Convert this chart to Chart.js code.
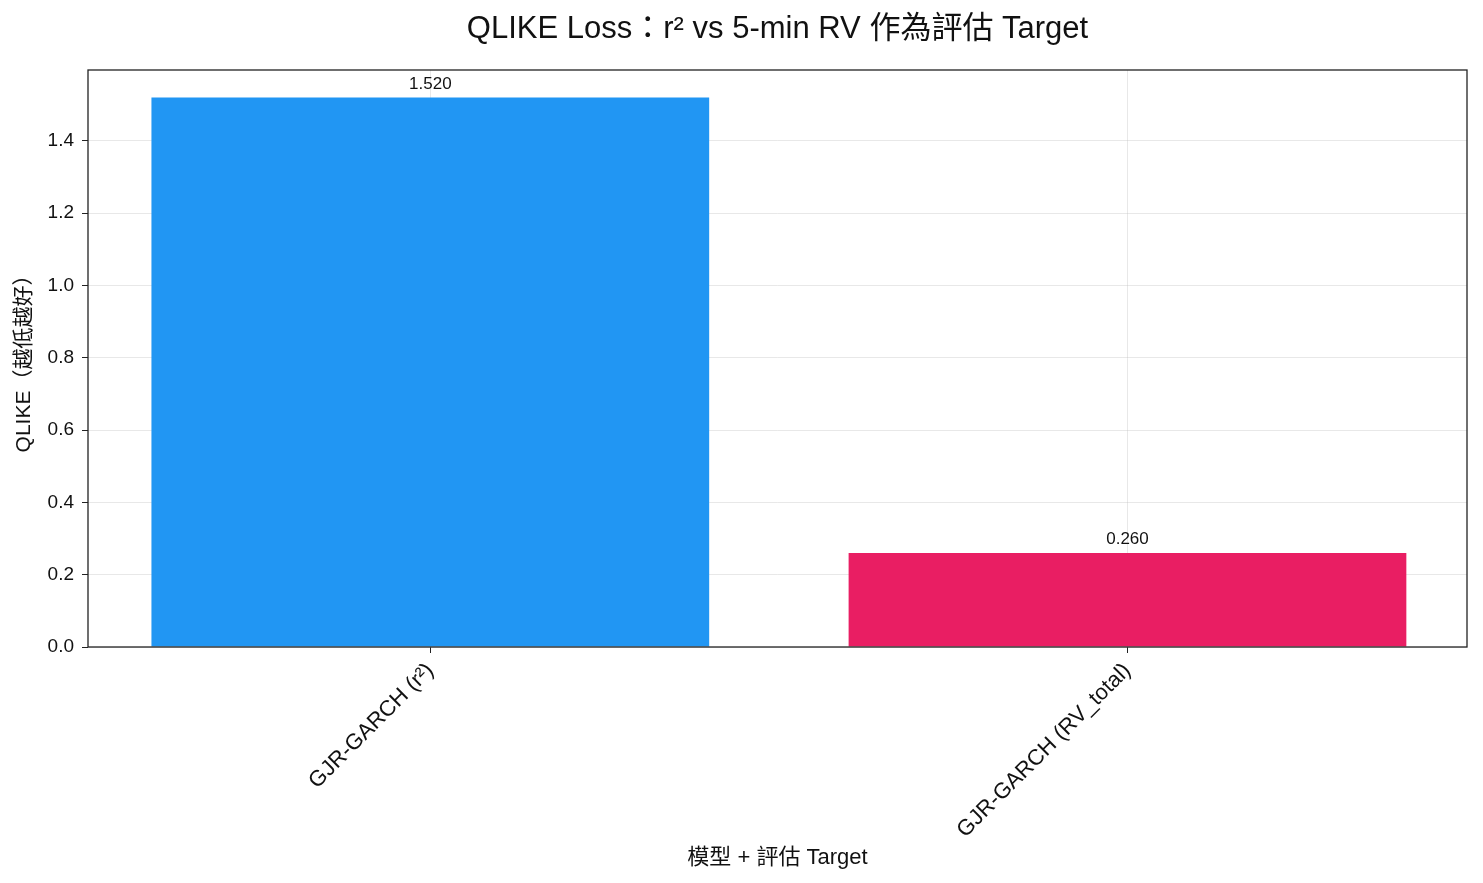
<!DOCTYPE html>
<html>
<head>
<meta charset="utf-8">
<script src="https://cdn.jsdelivr.net/npm/chart.js@4"></script>
<style>
  html, body { margin: 0; padding: 0; background: #fff; }
  #wrap { width: 1483px; height: 883px; }
</style>
</head>
<body>
<div id="wrap"><canvas id="chart" width="1483" height="883"></canvas></div>
<script>
const categories = ['GJR-GARCH (r²)', 'GJR-GARCH (RV_total)'];
const qlikeValues = [1.520, 0.260];
const barColors = ['#2196F3', '#E91E63'];
const yTicks = [0, 0.2, 0.4, 0.6, 0.8, 1.0, 1.2, 1.4];
const chartTitle = 'QLIKE Loss：r² vs 5-min RV 作為評估 Target';

const FONT = '"Liberation Sans", "Noto Sans CJK TC", sans-serif';
const GRID = 'rgba(190,190,190,0.35)';

// value labels on top of each bar
const valueLabels = {
    id: 'valueLabels',
    afterDatasetsDraw(chart) {
        const ctx = chart.ctx;
        const meta = chart.getDatasetMeta(0);
        ctx.save();
        ctx.font = '17px ' + FONT;
        ctx.fillStyle = '#111';
        ctx.textAlign = 'center';
        ctx.textBaseline = 'bottom';
        meta.data.forEach((bar, i) => {
            ctx.fillText(qlikeValues[i].toFixed(3), bar.x, bar.y - 5);
        });
        ctx.restore();
    }
};

// frame around the plot area + title centred over the axes
const frame = {
    id: 'frame',
    afterDraw(chart) {
        const a = chart.chartArea;
        const ctx = chart.ctx;
        ctx.save();
        ctx.strokeStyle = '#222';
        ctx.lineWidth = 1.3;
        ctx.strokeRect(a.left, a.top, a.right - a.left, a.bottom - a.top);
        ctx.font = '31px ' + FONT;
        ctx.fillStyle = '#111';
        ctx.textAlign = 'center';
        ctx.textBaseline = 'middle';
        ctx.fillText(chartTitle, (a.left + a.right) / 2, 29);
        ctx.restore();
    }
};

new Chart(document.getElementById('chart'), {
    type: 'bar',
    data: {
        datasets: [{
            data: qlikeValues.map((v, i) => ({ x: i, y: v })),
            backgroundColor: barColors,
            borderWidth: 0,
            barPercentage: 0.8,
            categoryPercentage: 1.0
        }]
    },
    options: {
        responsive: false,
        animation: false,
        layout: { padding: { left: 0, right: 16, top: 70, bottom: 0 } },
        plugins: {
            legend: { display: false },
            tooltip: { enabled: false },
            title: { display: false }
        },
        scales: {
            x: {
                type: 'linear',
                z: 1,
                offset: false,
                min: -0.491,
                max: 1.487,
                afterBuildTicks(scale) {
                    scale.ticks = categories.map((c, i) => ({ value: i }));
                },
                grid: {
                    offset: false,
                    color: GRID,
                    tickColor: '#222',
                    tickLength: 6
                },
                border: { display: false },
                ticks: {
                    color: '#111',
                    font: { family: FONT, size: 22 },
                    maxRotation: 45,
                    minRotation: 45,
                    padding: 5,
                    callback: v => categories[v]
                },
                title: {
                    display: true,
                    text: '模型 + 評估 Target',
                    color: '#111',
                    font: { family: FONT, size: 22, lineHeight: 1.2 },
                    padding: { top: 4, bottom: 12 }
                },
                afterFit(scale) { scale.height = 236; }
            },
            y: {
                z: 1,
                min: 0,
                max: 1.596,
                afterBuildTicks(scale) {
                    scale.ticks = yTicks.map(v => ({ value: v }));
                },
                grid: {
                    color: GRID,
                    tickColor: '#222',
                    tickLength: 6
                },
                border: { display: false },
                ticks: {
                    color: '#111',
                    font: { family: FONT, size: 19 },
                    padding: 8,
                    callback: v => Number(v).toFixed(1)
                },
                title: {
                    display: true,
                    text: 'QLIKE（越低越好）',
                    color: '#111',
                    font: { family: FONT, size: 21, lineHeight: 1.2 },
                    padding: { top: 12, bottom: 6 }
                },
                afterFit(scale) { scale.width = 88; }
            }
        }
    },
    plugins: [valueLabels, frame]
});
</script>
</body>
</html>
